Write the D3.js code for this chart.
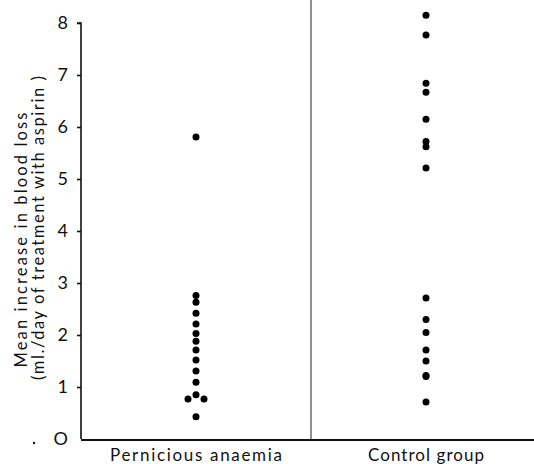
<!DOCTYPE html>
<html>
<head>
<meta charset="utf-8">
<script src="https://cdn.jsdelivr.net/npm/d3@7"></script>
<style>
  body { margin: 0; background: #fff; }
  text { font-family: Lato, "Open Sans", sans-serif; fill: #111; }
</style>
</head>
<body>
<div id="chart"></div>
<script>
// Groups on the x-axis and the values.
const groups = ['Pernicious anaemia', 'Control group'];

const perniciousValues = [5.81, 2.76, 2.63, 2.42, 2.21, 2.03, 1.88, 1.71,
                          1.52, 1.31, 1.09, 0.85, 0.77, 0.77, 0.43];

const controlValues = [8.15, 7.77, 6.84, 6.67, 6.15, 5.72, 5.62, 5.21,
                       2.71, 2.30, 2.05, 1.71, 1.50, 1.22, 1.20, 0.71];

const yTicks = [0, 1, 2, 3, 4, 5, 6, 7, 8];
const yTickLabels = ['O', '1', '2', '3', '4', '5', '6', '7', '8'];

const yLabelLines = ['Mean increase in blood loss',
                     '(ml./day of treatment with aspirin )'];

const width = 534,
      height = 464;

const svg = d3.select('#chart').append('svg')
    .attr('width', width)
    .attr('height', height);

const x = d3.scaleBand()
    .domain(groups)
    .range([81, 541]);

const y = d3.scaleLinear()
    .domain([0, 8])
    .range([439, 23]);

// Points that share a value are set side by side.
function spread(values, group) {
  const counts = d3.rollup(values, v => v.length, d => d);
  const seen = new Map();
  return values.map(v => {
    const n = counts.get(v);
    const i = seen.get(v) || 0;
    seen.set(v, i + 1);
    return {group: group, value: v, offset: (i - (n - 1) / 2) * 16};
  });
}

const points = spread(perniciousValues, groups[0])
    .concat(spread(controlValues, groups[1]));

// y-axis
const yAxis = d3.axisLeft(y)
    .tickValues(yTicks)
    .tickSize(4)
    .tickPadding(9)
    .tickFormat((d, i) => yTickLabels[i]);

const yAxisG = svg.append('g')
    .attr('transform', 'translate(' + x.range()[0] + ',0)')
    .call(yAxis);

yAxisG.select('.domain')
    .attr('d', 'M-4,' + y(8) + 'H0V' + y(0))
    .attr('stroke', '#111')
    .attr('stroke-width', 1.6);

yAxisG.selectAll('.tick line')
    .attr('stroke', '#111')
    .attr('stroke-width', 1.6);

yAxisG.selectAll('.tick').filter(d => d === 0).select('line').remove();

yAxisG.selectAll('.tick text')
    .style('font-size', '18px')
    .attr('fill', '#111');

// little stray dot before the zero
svg.append('circle')
    .attr('cx', 34)
    .attr('cy', y(0) + 4)
    .attr('r', 1.2)
    .attr('fill', '#111');

// x-axis baseline
svg.append('line')
    .attr('x1', x.range()[0])
    .attr('x2', width)
    .attr('y1', y(0) + 1)
    .attr('y2', y(0) + 1)
    .attr('stroke', '#111')
    .attr('stroke-width', 1.8);

// divider between the two groups
svg.append('line')
    .attr('x1', x(groups[1]))
    .attr('x2', x(groups[1]))
    .attr('y1', 0)
    .attr('y2', y(0))
    .attr('stroke', '#222')
    .attr('stroke-width', 1);

// group labels, stretched to the width they have in the print
const groupLabelWidths = [172, 116];

svg.selectAll('.group-label')
    .data(groups)
  .enter().append('text')
    .attr('class', 'group-label')
    .attr('x', (d, i) => x(d) + x.bandwidth() / 2 - groupLabelWidths[i] / 2)
    .attr('y', 461)
    .attr('textLength', (d, i) => groupLabelWidths[i])
    .attr('lengthAdjust', 'spacing')
    .style('font-size', '17px')
    .text(d => d);

// y-axis title, two lines
const yLabelPlace = [{x: 27, y: 240, len: 255}, {x: 44, y: 228, len: 304}];

svg.selectAll('.y-label')
    .data(yLabelLines)
  .enter().append('text')
    .attr('class', 'y-label')
    .attr('transform', (d, i) =>
      'translate(' + yLabelPlace[i].x + ',' + (yLabelPlace[i].y + yLabelPlace[i].len / 2) + ') rotate(-90)')
    .attr('textLength', (d, i) => yLabelPlace[i].len)
    .attr('lengthAdjust', 'spacing')
    .style('font-size', '16.5px')
    .text(d => d);

// points
svg.append('g')
  .selectAll('circle')
    .data(points)
  .enter().append('circle')
    .attr('cx', d => x(d.group) + x.bandwidth() / 2 + d.offset)
    .attr('cy', d => y(d.value))
    .attr('r', 3.5)
    .attr('fill', '#000');
</script>
</body>
</html>
